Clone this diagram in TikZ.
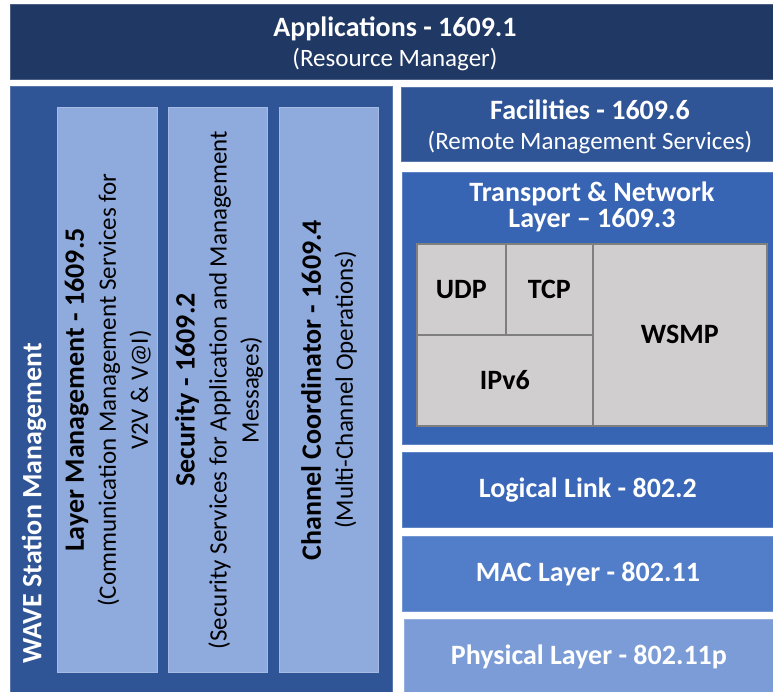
\documentclass[tikz,border=0pt]{standalone}
\usepackage{fontspec}
\setmainfont{Carlito}
\definecolor{appc}{HTML}{203864}
\definecolor{wavec}{HTML}{2F5597}
\definecolor{colc}{HTML}{8FAADC}
\definecolor{tnc}{HTML}{3864B4}
\definecolor{llc}{HTML}{3A67B7}
\definecolor{macc}{HTML}{527DC9}
\definecolor{phyc}{HTML}{7B9CD7}
\definecolor{cellc}{HTML}{D0CECE}
\definecolor{celld}{HTML}{7F7F7F}
\begin{document}
\begin{tikzpicture}[x=1pt,y=-1pt,
  box/.style={rectangle, anchor=north west, inner sep=0pt, fill=#1, draw=#1!80!white, line width=0.8pt},
  cell/.style={rectangle, anchor=north west, inner sep=0pt, fill=cellc, draw=celld, line width=1.6pt},
  ttl/.style={text=white, font=\fontsize{28}{30}\selectfont\bfseries, inner sep=0pt},
  sub/.style={text=white, font=\fontsize{25}{28}\selectfont, inner sep=0pt},
  celltxt/.style={text=black, font=\fontsize{28}{30}\selectfont\bfseries, inner sep=0pt},
  coltxt/.style={text=black, rotate=90, align=center, inner sep=0pt, font=\fontsize{25}{32}\selectfont},
  colbold/.style={}
]
\useasboundingbox (0,0) rectangle (773,692);
% Applications
\node[box=appc, minimum width=763pt, minimum height=75pt] (app) at (10,4) {};
\node[ttl] (appt) at (395,29) {Applications - 1609.1};
\node[sub] (apps) at (395,60) {(Resource Manager)};
% WAVE station management
\node[box=wavec, minimum width=382pt, minimum height=610pt] (wave) at (10,86) {};
\node[ttl, rotate=90, anchor=west] (wavet) at (34,664) {WAVE Station Management};
\node[box=colc, minimum width=100pt, minimum height=565pt] (c1) at (57,107) {};
\node[box=colc, minimum width=99pt, minimum height=565pt] (c2) at (168,107) {};
\node[box=colc, minimum width=99pt, minimum height=565pt] (c3) at (279,107) {};
\node[coltxt] (c1t) at (108,390) {{\fontsize{28}{32}\selectfont\bfseries Layer Management - 1609.5}\\
  (Communication Management Services for\\
  V2V \& V@I)};
\node[coltxt] (c2t) at (219,390) {{\fontsize{28}{32}\selectfont\bfseries Security - 1609.2}\\
  (Security Services for Application and Management\\
  Messages)};
\node[coltxt] (c3t) at (329,390) {{\fontsize{28}{32}\selectfont\bfseries Channel Coordinator - 1609.4}\\
  (Multi-Channel Operations)};
% Facilities
\node[box=wavec, minimum width=372pt, minimum height=74pt] (fac) at (401,87) {};
\node[ttl] (fact) at (590,110) {Facilities - 1609.6};
\node[sub] (facs) at (590,143) {(Remote Management Services)};
% Transport & Network
\node[box=tnc, minimum width=371pt, minimum height=272pt] (tn) at (402,172) {};
\node[ttl, align=center, font=\fontsize{28}{26}\selectfont\bfseries] (tnt) at (592,207) {Transport \& Network\\Layer -- 1609.3};
\node[cell, minimum width=89pt, minimum height=91pt] (udp) at (416,243) {};
\node[cell, minimum width=87pt, minimum height=91pt] (tcp) at (505,243) {};
\node[cell, minimum width=176pt, minimum height=91pt] (ipv6) at (416,334) {};
\node[cell, minimum width=174pt, minimum height=182pt] (wsmp) at (592,243) {};
\node[celltxt] at (udp.center) {UDP};
\node[celltxt] at (tcp.center) {TCP};
\node[celltxt] at (ipv6.center) {IPv6};
\node[celltxt] at (wsmp.center) {WSMP};
% Lower layers
\node[box=llc, minimum width=371pt, minimum height=75pt] (ll) at (402,452) {};
\node[ttl] at (ll.center) {Logical Link - 802.2};
\node[box=macc, minimum width=371pt, minimum height=75pt] (mac) at (402,536) {};
\node[ttl] at (mac.center) {MAC Layer - 802.11};
\node[box=phyc, minimum width=369pt, minimum height=74pt] (phy) at (404,619) {};
\node[ttl] at (phy.center) {Physical Layer - 802.11p};
\end{tikzpicture}
\end{document}
